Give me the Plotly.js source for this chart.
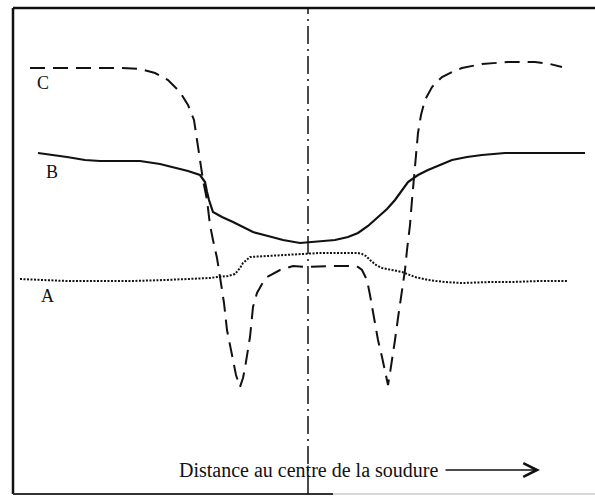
<!DOCTYPE html>
<html>
<head>
<meta charset="utf-8">
<script src="https://cdn.plot.ly/plotly-3.0.1.min.js"></script>
<style>
  html, body { margin: 0; padding: 0; background: #fff; }
  #chart { width: 595px; height: 497px; }
</style>
</head>
<body>
<div id="chart"></div>
<script>
// distance from weld centre (x) and level (y)
const cDist = [-278, -248, -218, -188, -168, -153, -140, -128, -120, -114, -111, -108, -105, -101, -98, -95, -91, -88, -84, -81, -76, -72, -68, -65, -63, -60, -58, -55, -51, -46, -41, -28, -15, 0, 22, 42, 50, 54, 59, 62, 64, 67, 70, 74, 77, 80, 82, 85, 87, 90, 94, 97, 99, 102, 104, 107, 110, 113, 117, 124, 134, 144, 154, 174, 200, 227, 242, 254];
const cVal = [426, 426, 426, 426, 425, 421, 414, 402, 389, 374, 354, 334, 314, 294, 269, 254, 236, 217, 191, 164, 137, 119, 107, 116, 126, 144, 157, 187, 201, 210, 217, 224, 228, 227, 228, 228, 227, 224, 214, 199, 187, 171, 154, 137, 124, 109, 121, 139, 154, 176, 201, 224, 244, 269, 294, 324, 361, 379, 394, 407, 417, 422, 426, 430, 432, 432, 430, 427];

const bDist = [-270, -253, -241, -223, -208, -188, -168, -148, -135, -120, -108, -103, -101, -99, -95, -86, -75, -65, -55, -40, -25, -8, 4, 27, 40, 50, 60, 70, 79, 87, 94, 100, 110, 120, 132, 144, 159, 174, 197, 220, 247, 277];
const bVal = [341, 339, 337, 334, 333, 333, 333, 330, 327, 323, 319, 312, 302, 294, 282, 277, 272, 267, 262, 258, 254, 251, 252, 254, 257, 261, 268, 277, 285, 294, 304, 312, 319, 324, 329, 334, 337, 339, 341, 341, 341, 341];

const aDist = [-288, -268, -241, -208, -175, -143, -115, -98, -91, -80, -73, -68, -65, -61, -58, -41, -23, -8, 12, 32, 50, 54, 58, 62, 68, 74, 84, 94, 107, 120, 137, 154, 182, 204, 232, 260];
const aVal = [215, 214, 213, 213, 213, 214, 215, 216, 217, 218, 220, 226, 231, 235, 237, 238, 239, 240, 241, 241, 241, 240, 238, 234, 229, 226, 224, 222, 217, 214, 212, 211, 212, 212, 213, 213];

const curveNames = ["C", "B", "A"];
const axisLabel = "Distance au centre de la soudure";

const ink = "#111";

const traces = [
  { x: cDist, y: cVal, mode: "lines", name: "C",
    line: { color: ink, width: 2, dash: "15px,8px" } },
  { x: bDist, y: bVal, mode: "lines", name: "B",
    line: { color: ink, width: 2.2 } },
  { x: aDist, y: aVal, mode: "lines", name: "A",
    line: { color: ink, width: 2, dash: "2px,1.5px" } }
];

// label spots next to the left end of each curve
const labelX = [-265, -256, -261];
const labelY = [411, 322, 198];

const annotations = curveNames.map((n, i) => ({
  x: labelX[i], y: labelY[i], xref: "x", yref: "y",
  text: n, showarrow: false,
  font: { family: "Liberation Serif", size: 18, color: ink }
}));

// axis caption with its arrow pointing away from the centre
annotations.push({
  x: 232, y: 24, xref: "x", yref: "y",
  ax: 0.5, ay: 24, axref: "x", ayref: "y",
  text: axisLabel, showarrow: true,
  arrowhead: 5, arrowsize: 1.8, arrowwidth: 1.5, arrowcolor: ink,
  startstandoff: 5,
  borderpad: 2,
  font: { family: "Liberation Serif", size: 20, color: ink }
});

const layout = {
  width: 595,
  height: 497,
  margin: { l: 13, r: 0, t: 8, b: 3 },
  paper_bgcolor: "#fff",
  plot_bgcolor: "#fff",
  showlegend: false,
  xaxis: { range: [-295, 287], visible: false, fixedrange: true },
  yaxis: { range: [0, 486], visible: false, fixedrange: true },
  annotations: annotations,
  shapes: [
    // frame: left and top dark, bottom fading
    { type: "line", xref: "paper", yref: "paper", x0: 0, x1: 0, y0: 0, y1: 1,
      line: { color: ink, width: 2.5 } },
    { type: "line", xref: "paper", yref: "paper", x0: 0, x1: 1, y0: 1, y1: 1,
      line: { color: ink, width: 2.5 } },
    { type: "line", xref: "paper", yref: "paper", x0: 0, x1: 0.55, y0: 0, y1: 0,
      line: { color: "#333", width: 2 } },
    { type: "line", xref: "paper", yref: "paper", x0: 0.55, x1: 1, y0: 0, y1: 0,
      line: { color: "#ccc", width: 1.5 } },
    // weld centre line
    { type: "line", xref: "x", yref: "paper", x0: 0, x1: 0, y0: 0, y1: 1,
      line: { color: ink, width: 1.5, dash: "18px,5px,2px,5px" } }
  ]
};

Plotly.newPlot("chart", traces, layout, { staticPlot: true, displayModeBar: false });
</script>
</body>
</html>
